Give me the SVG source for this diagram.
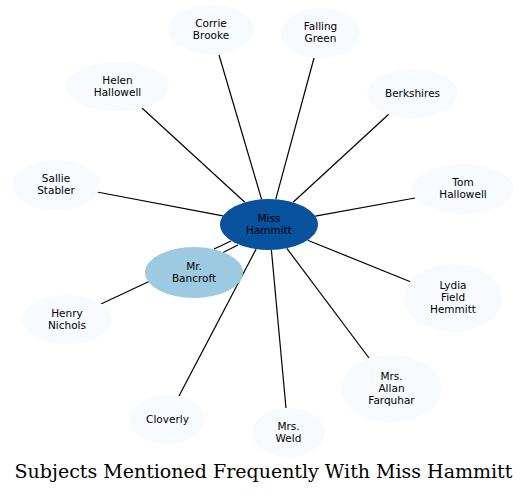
<svg xmlns="http://www.w3.org/2000/svg" width="527" height="494" viewBox="0 0 527 494">
<style>
.n{fill:#f7fbff}
.t{font-family:"DejaVu Sans",sans-serif;font-size:10.5px;fill:#000;text-anchor:middle}
.e{stroke:#000;stroke-width:1.2;fill:none}
.title{font-family:"DejaVu Serif",serif;font-size:19px;fill:#000;text-anchor:middle}
</style>
<rect width="527" height="494" fill="#fff"/>
<g id="edges">
<line class="e" x1="261.6" y1="199.3" x2="219" y2="55"/>
<line class="e" x1="275.8" y1="199.2" x2="314" y2="58"/>
<line class="e" x1="244.8" y1="202.3" x2="142" y2="108"/>
<line class="e" x1="293.1" y1="202.3" x2="389" y2="114"/>
<line class="e" x1="222.9" y1="215.8" x2="97" y2="192"/>
<line class="e" x1="315.3" y1="216.1" x2="415" y2="198"/>
<line class="e" x1="307.7" y1="240.2" x2="411" y2="282"/>
<line class="e" x1="286.8" y1="248.3" x2="369" y2="358"/>
<line class="e" x1="271.4" y1="250" x2="286" y2="408"/>
<line class="e" x1="256.1" y1="249.1" x2="179" y2="396"/>
<line class="e" x1="214" y1="249" x2="231" y2="241"/>
<line class="e" x1="222" y1="253" x2="238" y2="245"/>
<line class="e" x1="150" y1="281" x2="101" y2="304"/>
</g>
<g id="corrie"><ellipse class="n" cx="211" cy="29.5" rx="43" ry="24.5"/><text class="t" x="211" y="26.5">Corrie</text><text class="t" x="211" y="38.5">Brooke</text></g>
<g id="falling"><ellipse class="n" cx="320.5" cy="33" rx="39.5" ry="25"/><text class="t" x="320.5" y="30">Falling</text><text class="t" x="320.5" y="42">Green</text></g>
<g id="helen"><ellipse class="n" cx="117.5" cy="86.5" rx="51.5" ry="24.5"/><text class="t" x="117.5" y="83.5">Helen</text><text class="t" x="117.5" y="95.5">Hallowell</text></g>
<g id="berkshires"><ellipse class="n" cx="412.5" cy="93.5" rx="45.5" ry="24.5"/><text class="t" x="412.5" y="96.5">Berkshires</text></g>
<g id="sallie"><ellipse class="n" cx="56" cy="185" rx="44" ry="25"/><text class="t" x="56" y="182">Sallie</text><text class="t" x="56" y="194">Stabler</text></g>
<g id="tom"><ellipse class="n" cx="463" cy="189" rx="51" ry="25"/><text class="t" x="463" y="186">Tom</text><text class="t" x="463" y="198">Hallowell</text></g>
<g id="hammitt"><ellipse cx="269" cy="224.5" rx="49" ry="25.5" fill="#08519c"/><text class="t" x="269" y="221.5">Miss</text><text class="t" x="269" y="233.5">Hammitt</text></g>
<g id="bancroft"><ellipse cx="194" cy="272.5" rx="49" ry="25.5" fill="#9ecae1"/><text class="t" x="194" y="269.5">Mr.</text><text class="t" x="194" y="281.5">Bancroft</text></g>
<g id="lydia"><ellipse class="n" cx="453" cy="298" rx="49" ry="34"/><text class="t" x="453" y="289">Lydia</text><text class="t" x="453" y="301">Field</text><text class="t" x="453" y="313">Hemmitt</text></g>
<g id="henry"><ellipse class="n" cx="67" cy="319.5" rx="45" ry="24.5"/><text class="t" x="67" y="316.5">Henry</text><text class="t" x="67" y="328.5">Nichols</text></g>
<g id="farquhar"><ellipse class="n" cx="391.5" cy="388.5" rx="50.5" ry="33.5"/><text class="t" x="391.5" y="380">Mrs.</text><text class="t" x="391.5" y="392">Allan</text><text class="t" x="391.5" y="404">Farquhar</text></g>
<g id="cloverly"><ellipse class="n" cx="167.5" cy="419.5" rx="37.5" ry="24.5"/><text class="t" x="167.5" y="422.5">Cloverly</text></g>
<g id="weld"><ellipse class="n" cx="288.5" cy="432.5" rx="36.5" ry="24.5"/><text class="t" x="288.5" y="429.5">Mrs.</text><text class="t" x="288.5" y="441.5">Weld</text></g>
<text class="title" x="263.5" y="478">Subjects Mentioned Frequently With Miss Hammitt</text>
</svg>
